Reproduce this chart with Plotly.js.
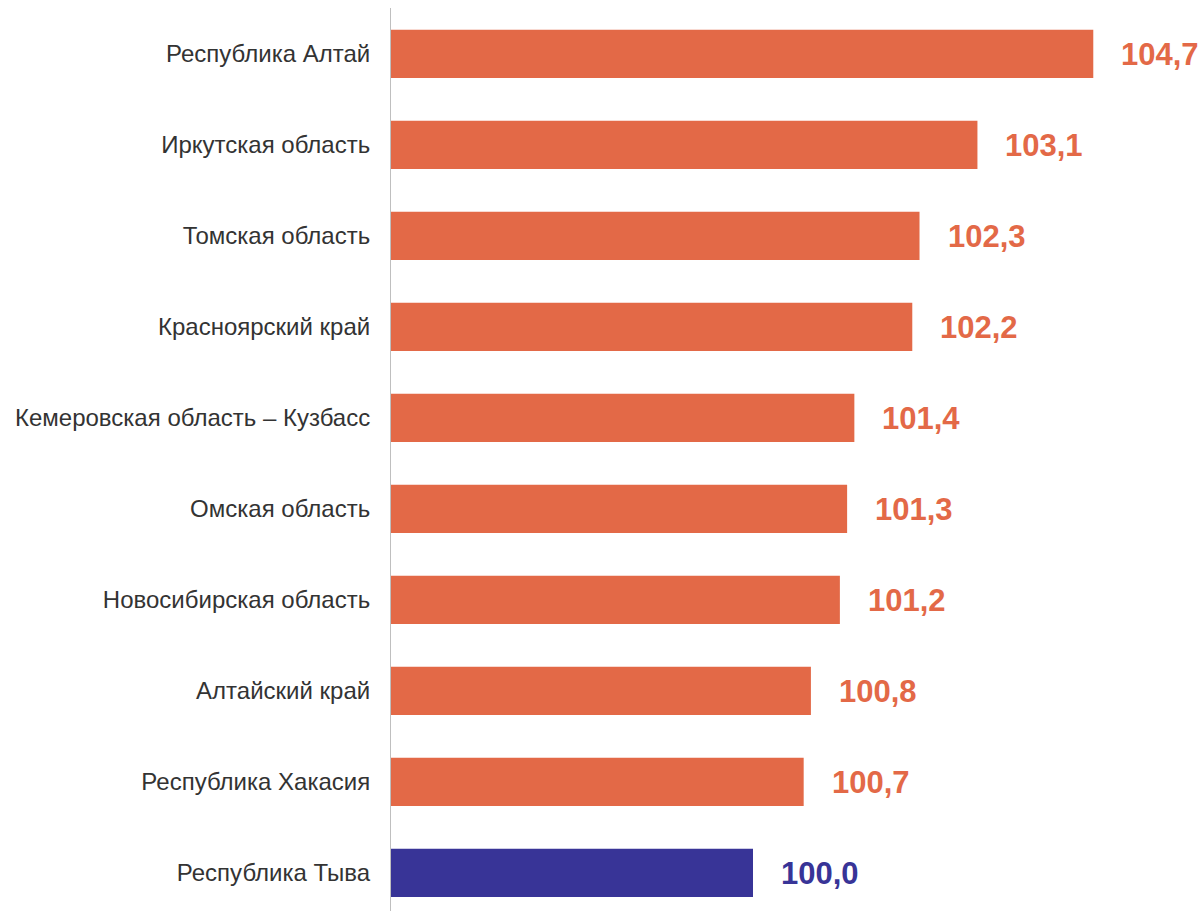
<!DOCTYPE html>
<html>
<head>
<meta charset="utf-8">
<script src="https://cdn.plot.ly/plotly-3.0.1.min.js"></script>
<style>html,body{margin:0;padding:0;background:#fff;}#chart{width:1204px;height:911px;}</style>
</head>
<body>
<div id="chart"></div>
<script>
var regions = [
  "Республика Алтай",
  "Иркутская область",
  "Томская область",
  "Красноярский край",
  "Кемеровская область – Кузбасс",
  "Омская область",
  "Новосибирская область",
  "Алтайский край",
  "Республика Хакасия",
  "Республика Тыва"
];
var values = [104.7, 103.1, 102.3, 102.2, 101.4, 101.3, 101.2, 100.8, 100.7, 100.0];
var labels = ["104,7", "103,1", "102,3", "102,2", "101,4", "101,3", "101,2", "100,8", "100,7", "100,0"];
var highlight = "Республика Тыва";

var ORANGE = "#E36947";
var NAVY = "#383497";
var colors = regions.map(function(r){ return r === highlight ? NAVY : ORANGE; });

var trace = {
  type: "bar",
  orientation: "h",
  y: regions,
  x: values.map(function(v){ return v - 95; }),
  base: 95,
  marker: {color: colors},
  width: 0.53,
  hoverinfo: "none"
};

var annotations = regions.map(function(r, i){
  return {
    x: values[i], y: r, xref: "x", yref: "y",
    text: labels[i], showarrow: false,
    xanchor: "left", yanchor: "middle", xshift: 26, yshift: -1,
    font: {family: "Liberation Sans, Arial, sans-serif", size: 31, color: colors[i], weight: "bold"}
  };
});

var layout = {
  width: 1204, height: 911,
  margin: {l: 391, r: 0, t: 8, b: 0, pad: 0},
  paper_bgcolor: "#fff", plot_bgcolor: "#fff",
  showlegend: false,
  xaxis: {range: [95, 95 + 813/72.4], showgrid: false, zeroline: false, showticklabels: false, showline: false, fixedrange: true},
  yaxis: {
    type: "category", categoryorder: "array", categoryarray: regions,
    range: [9.418, -0.505], autorange: false,
    showgrid: false, zeroline: false,
    showline: true, linecolor: "#BFBFBF", linewidth: 1,
    ticks: "outside", ticklen: 15, tickcolor: "rgba(0,0,0,0)",
    tickfont: {family: "Liberation Sans, Arial, sans-serif", size: 24, color: "#333333"}
  },
  annotations: annotations
};

Plotly.newPlot("chart", [trace], layout, {displayModeBar: false, staticPlot: true});
</script>
</body>
</html>
